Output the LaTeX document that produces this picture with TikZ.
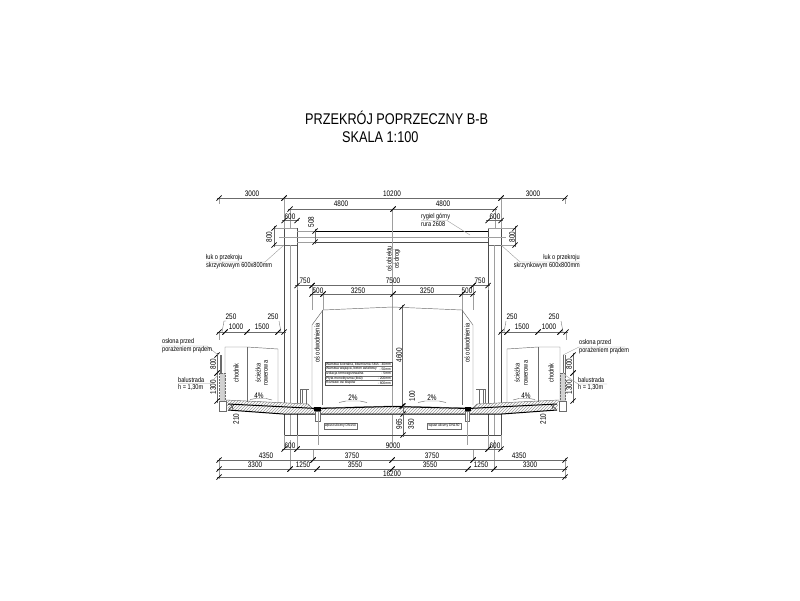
\documentclass[tikz,border=0pt]{standalone}
\usepackage{fontspec}
\setmainfont{Liberation Sans}
\usetikzlibrary{patterns}
\definecolor{dimgray}{gray}{0.42}
\definecolor{lightg}{gray}{0.62}
\tikzset{
  dimtxt/.style={inner sep=0pt,font=\fontsize{8}{8}\selectfont,xscale=.8},
  smalltxt/.style={inner sep=0pt,font=\fontsize{7}{7}\selectfont,xscale=.8},
  tinytxt/.style={inner sep=0pt,font=\fontsize{3.6}{3.6}\selectfont,xscale=.92},
  titletxt/.style={inner sep=0pt,font=\fontsize{15.5}{15.5}\selectfont,xscale=.82},
  dimline/.style={draw=dimgray,line width=.35pt},
  tickmark/.style={draw=black,line width=.7pt},
  thin gray/.style={draw=lightg,line width=.4pt},
  outline/.style={draw=dimgray,line width=.45pt},
  heavy/.style={draw=black,line width=1pt},
  mid/.style={draw=black!70,line width=.7pt}
}
\newcount\nn
\newcommand{\lab}[4][dimtxt]{\global\advance\nn by 1 \node[#2,#1] (t\the\nn) at (#3) {#4};}
\newcommand{\tk}[2]{\draw[tickmark] (#1-2.6,#2+2.6) -- (#1+2.6,#2-2.6);}
% horizontal chain segment: x1 x2 y
\newcommand{\hd}[3]{\draw[dimline] (#1-2,#3) -- (#2+2,#3); \tk{#1}{#3} \tk{#2}{#3}}
% vertical chain segment: x y1 y2
\newcommand{\vd}[3]{\draw[dimline] (#1,#2-2) -- (#1,#3+2); \tk{#1}{#2} \tk{#1}{#3}}
\newcommand{\halfside}{%
  % hatch slab
  \fill[white] (226,400) -- (308,404) -- (312,408) -- (392.5,406) -- (392.5,414) -- (283,414) -- (228,410) -- (226,411) -- cycle;
  \fill[pattern=north east lines,pattern color=black!40] (226,400) -- (308,404) -- (312,408) -- (392.5,406) -- (392.5,414) -- (283,414) -- (228,410) -- cycle;
  \draw[outline] (226,400) -- (308,404) -- (312,408) -- (392.5,406);
  \draw[heavy] (228,404) -- (317,408.5) -- (392.5,406.5);
  \draw[heavy] (228,410) -- (283,414) -- (392.5,414);
  \draw[mid] (231,404) -- (233,409) (229,409) -- (234,405);
  % edge block
  \draw[outline,fill=white] (219,401) rectangle (226,411);
  % railing
  \draw[outline,densely dotted,fill=black!18] (219.5,373) rectangle (225,401);
  \draw[outline] (220,355) -- (220,373) (221.3,355) -- (221.3,373);
  % clearance boxes
  \draw[outline] (225,401) -- (225,347) -- (247,347) -- (278,349) -- (278,403);
  \draw[outline] (247,347) -- (247,402);
  % slope marks
  \draw[outline] (250,399.5) -- (256,398.5) -- (266,398.5) -- (272,400);
  \draw[outline] (339,402.5) -- (346,401) -- (360,401) -- (367,402.5);
  % traffic clearance
  \draw[outline] (312,405) -- (312,325) -- (323,310) -- (392.5,307);
  \draw[outline] (322.7,310) -- (322.7,405);
  % post
  \draw[outline] (300,389) -- (300,403) (302,389) -- (302,403) (306,389) -- (306,404) (300,389) -- (309,389);
  % drain
  \fill[black] (314,406.5) rectangle (320.5,411);
  \draw[outline,fill=white] (315.5,411) rectangle (320,421);
  \draw[thin gray] (318,412) -- (318,445);
}
\begin{document}
\begin{tikzpicture}[x=1pt,y=-1pt]
\useasboundingbox (0,0) rectangle (800,600);
\fill[white] (0,0) rectangle (800,600);
% title
\lab[titletxt]{anchor=west}{305,118}{PRZEKRÓJ POPRZECZNY B-B}
\lab[titletxt]{anchor=west}{342,137}{SKALA 1:100}
% frame: columns, beam
\draw[outline] (284,228) rectangle (297,245);
\draw[outline] (488,228) rectangle (501,245);
\draw[mid] (284,228) -- (284,435) -- (501,435) -- (501,228) -- (488,228) -- (488,435);
\draw[mid] (297,228) -- (297,435);
\draw[mid] (284,228) -- (297,228);
\draw[thin gray] (290.5,245) -- (290.5,435) (494.5,245) -- (494.5,435);
\draw[heavy] (297,231) -- (488,231);
\draw[mid] (297,242) -- (488,242);
\draw[thin gray] (279,237) -- (506,237);
\draw[thin gray] (392.5,209) -- (392.5,445);
\draw[mid] (284,435) -- (501,435);
% deck and sides
\halfside
\begin{scope}[xshift=785pt,xscale=-1]
\halfside
\end{scope}
% extension lines
\draw[thin gray] (219,198) -- (219,204) (565,198) -- (565,204) (219,458) -- (219,479) (565,458) -- (565,479);
\draw[thin gray] (284,198) -- (284,228) (501,198) -- (501,228) (284,435) -- (284,450) (297,435) -- (297,450) (488,435) -- (488,450) (501,435) -- (501,450);
\draw[thin gray] (290,209) -- (290,228) (495,209) -- (495,228);
\draw[thin gray] (219,332) -- (219,340) (566,332) -- (566,340);
\draw[thin gray] (312,285) -- (312,310) (473,285) -- (473,310) (323,294) -- (323,310) (462,294) -- (462,310);
\draw[thin gray] (297,285) -- (297,290) (488,285) -- (488,290);
\draw[thin gray] (290,469) -- (290,440) (494,469) -- (494,440) (313,460) -- (313,450) (473,460) -- (473,450);
\draw[thin gray] (297,228) -- (274,228) (284,245) -- (274,245) (488,228) -- (515,228) (501,245) -- (515,245);
\draw[thin gray] (297,231) -- (315,231) (297,242) -- (315,242);
% top dims
\hd{219}{284}{198} \hd{284}{501}{198} \hd{501}{565}{198}
\hd{290}{393}{209} \hd{393}{495}{209}
\hd{284}{297}{220.5} \hd{488}{501}{220.5}
\hd{297}{312}{285.5} \hd{312}{473}{285.5} \hd{473}{488}{285.5}
\hd{312}{323}{294} \hd{323}{393}{294} \hd{393}{462}{294} \hd{462}{473}{294}
\vd{274}{228}{245} \vd{515}{228}{245} \vd{315}{231}{242}
\lab{}{252,194}{3000} \lab{}{392,194}{10200} \lab{}{533,194}{3000}
\lab{}{341,204}{4800} \lab{}{443,204}{4800}
\lab{}{290,217}{600} \lab{}{495,217}{600}
\lab{rotate=90}{269,237}{800} \lab{rotate=90}{512,237}{800} \lab{rotate=90}{311,222}{508}
\lab{}{305,281}{750} \lab{}{393,281}{7500} \lab{}{480,281}{750}
\lab{}{318,291}{500} \lab{}{358,291}{3250} \lab{}{427,291}{3250} \lab{}{467,291}{500}
% side dims
\hd{219}{225}{332} \hd{225}{247}{332} \hd{247}{278}{332} \hd{278}{284}{332}
\hd{501}{507}{332} \hd{507}{538}{332} \hd{538}{560}{332} \hd{560}{566}{332}
\lab{}{231,317}{250} \lab{}{273,317}{250} \lab{}{236,327}{1000} \lab{}{262,327}{1500}
\lab{}{512,317}{250} \lab{}{554,317}{250} \lab{}{522,327}{1500} \lab{}{549,327}{1000}
\draw[dimline] (222,332) -- (224,321) -- (226,321) (281,332) -- (279,321);
\draw[dimline] (504,332) -- (506,321) (563,332) -- (561,321);
\vd{217}{355}{373} \vd{217}{373}{401} \vd{573}{355}{373} \vd{573}{373}{401}
\lab{rotate=90}{213,364}{800} \lab{rotate=90}{213,387}{1300}
\lab{rotate=90}{569,364}{800} \lab{rotate=90}{569,387}{1300}
\lab{rotate=90}{236,419}{210} \lab{rotate=90}{543,419}{210}
\lab{}{259,396}{4\%} \lab{}{526,396}{4\%}
\lab{}{353,398}{2\%} \lab{}{432,398}{2\%}
% centre dims
\vd{402}{307}{406} \vd{403}{414}{435} \tk{403}{406}
\draw[dimline] (403,406) -- (403,414);
\lab{rotate=90}{399,355}{4600} \lab{rotate=90}{412,396}{100}
\lab{rotate=90}{399,424}{965} \lab{rotate=90}{411,424}{350}
% bottom dims
\hd{284}{297}{449} \hd{297}{488}{449} \hd{488}{501}{449}
\lab{}{290,445.5}{600} \lab{}{393,445.5}{9000} \lab{}{495,445.5}{600}
\hd{219}{313}{460} \hd{313}{392}{460} \hd{392}{473}{460} \hd{473}{565}{460}
\lab{}{266,456}{4350} \lab{}{352,456}{3750} \lab{}{432,456}{3750} \lab{}{519,456}{4350}
\hd{219}{290}{469} \hd{290}{317}{469} \hd{317}{392}{469} \hd{392}{468}{469} \hd{468}{494}{469} \hd{494}{565}{469}
\lab{}{255,465}{3300} \lab{}{303,465}{1250} \lab{}{355,465}{3550} \lab{}{430,465}{3550} \lab{}{481,465}{1250} \lab{}{530,465}{3300}
\hd{219}{565}{477}
\lab{}{392,473.5}{16200}
% rotated notes
\lab[smalltxt]{rotate=90}{389,259}{oś obiektu} \lab[smalltxt]{rotate=90}{397,259}{oś drogi}
\lab[smalltxt]{rotate=90}{317,343}{oś odwodnienia} \lab[smalltxt]{rotate=90}{467,343}{oś odwodnienia}
\lab[smalltxt]{rotate=90}{236,373}{chodnik} \lab[smalltxt]{rotate=90}{258,373}{ścieżka} \lab[smalltxt]{rotate=90}{266,373}{rowerowa}
\lab[smalltxt]{rotate=90}{551,373}{chodnik} \lab[smalltxt]{rotate=90}{517,373}{ścieżka} \lab[smalltxt]{rotate=90}{526,373}{rowerowa}
% leaders and notes
\draw[thin gray] (206,262) -- (265,262) -- (284,245);
\lab[smalltxt]{anchor=west}{206,258}{łuk o przekroju} \lab[smalltxt]{anchor=west}{206,265.5}{skrzynkowym 600x800mm}
\draw[thin gray] (580,262) -- (520,262) -- (501,245);
\lab[smalltxt]{anchor=east}{580,258}{łuk o przekroju} \lab[smalltxt]{anchor=east}{580,265.5}{skrzynkowym 600x800mm}
\draw[thin gray] (421,220.5) -- (447,220.5) -- (470,235);
\lab[smalltxt]{anchor=west}{421,217}{rygiel górny} \lab[smalltxt]{anchor=west}{421,224.5}{rura 2608}
\draw[thin gray] (161,346) -- (207,346) -- (218,355);
\lab[smalltxt]{anchor=west}{162,342}{osłona przed} \lab[smalltxt]{anchor=west}{162,349.5}{porażeniem prądem}
\draw[thin gray] (178,383.5) -- (210,383.5) -- (218,375);
\lab[smalltxt]{anchor=west}{178,380}{balustrada} \lab[smalltxt]{anchor=west}{178,387.5}{h = 1,30m}
\draw[thin gray] (625,347) -- (579,347) -- (563,355);
\lab[smalltxt]{anchor=west}{579,343}{osłona przed} \lab[smalltxt]{anchor=west}{579,350.5}{porażeniem prądem}
\draw[thin gray] (607,384) -- (578,384) -- (565,375);
\lab[smalltxt]{anchor=west}{578,380}{balustrada} \lab[smalltxt]{anchor=west}{578,387.5}{h = 1,30m}
% layer table
\fill[white] (325,362) rectangle (392,385);
\draw[mid] (325,362) rectangle (392,385);
\foreach \yy in {366.6,371.2,375.8,380.4} {\draw[outline] (325,\yy) -- (392,\yy);}
\lab[tinytxt]{anchor=west}{326,364.4}{Warstwa ścieralna, bitumiczna SMA}
\lab[tinytxt]{anchor=west}{326,369}{Warstwa wiążąca, beton asfaltowy}
\lab[tinytxt]{anchor=west}{326,373.6}{Izolacja termozgrzewalna}
\lab[tinytxt]{anchor=west}{326,378.2}{Płyta monolityczna (B40)}
\lab[tinytxt]{anchor=west}{326,382.8}{Rozstaw osi słupów}
\lab[tinytxt]{anchor=east}{391,364.4}{- 40mm}
\lab[tinytxt]{anchor=east}{391,369}{- 50mm}
\lab[tinytxt]{anchor=east}{391,373.6}{- 5mm}
\lab[tinytxt]{anchor=east}{391,378.2}{- 200mm}
\lab[tinytxt]{anchor=east}{391,382.8}{- 800mm}
% drain labels
\draw[outline,fill=white] (324,423) rectangle (357,429);
\draw[outline,fill=white] (427,423) rectangle (461,429);
\lab[tinytxt]{}{340.5,426}{wpust uliczny DN150}
\lab[tinytxt]{}{444,426}{wpust uliczny DN150}
\end{tikzpicture}
\end{document}
